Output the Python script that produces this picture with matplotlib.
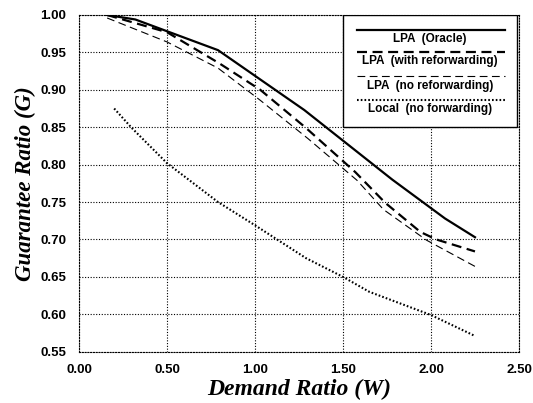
import matplotlib
matplotlib.use("Agg")
import matplotlib.pyplot as plt
from matplotlib.patches import Rectangle
from matplotlib.lines import Line2D

# ---- data ----
oracle_x = [0.16, 0.32, 0.79, 1.28, 1.78, 2.08, 2.25]
oracle_y = [1.000, 0.994, 0.953, 0.873, 0.780, 0.728, 0.703]

refwd_x = [0.16, 0.50, 0.80, 1.03, 1.29, 1.57, 1.74, 1.94, 2.03, 2.25]
refwd_y = [1.000, 0.977, 0.935, 0.900, 0.849, 0.790, 0.749, 0.710, 0.700, 0.684]

norefwd_x = [0.16, 0.50, 0.79, 1.03, 1.30, 1.58, 1.73, 1.975, 2.25]
norefwd_y = [0.996, 0.964, 0.929, 0.886, 0.835, 0.779, 0.740, 0.699, 0.664]

local_x = [0.20, 0.30, 0.50, 0.79, 1.00, 1.29, 1.50, 1.65, 2.00, 2.25]
local_y = [0.875, 0.849, 0.802, 0.750, 0.719, 0.675, 0.650, 0.630, 0.599, 0.571]

labels = ["LPA  (Oracle)", "LPA  (with reforwarding)",
          "LPA  (no reforwarding)", "Local  (no forwarding)"]
xticks = [0.0, 0.5, 1.0, 1.5, 2.0, 2.5]
yticks = [0.55, 0.60, 0.65, 0.70, 0.75, 0.80, 0.85, 0.90, 0.95, 1.00]

fig = plt.figure(figsize=(5.33, 4.03), dpi=100)
ax = fig.add_axes([0.1482, 0.1273, 0.8255, 0.8355])

styles = [
    dict(color="black", lw=1.6, ls="-"),
    dict(color="black", lw=1.6, ls=(0, (4.5, 2.5))),
    dict(color="black", lw=0.8, ls=(0, (7, 4))),
    dict(color="black", lw=1.5, ls=(0, (0.8, 1.0))),
]
series = [(oracle_x, oracle_y), (refwd_x, refwd_y),
          (norefwd_x, norefwd_y), (local_x, local_y)]
for (xs, ys), st in zip(series, styles):
    ax.plot(xs, ys, zorder=3, **st)

ax.set_xlim(0, 2.5)
ax.set_ylim(0.55, 1.0)
ax.set_xticks(xticks)
ax.set_yticks(yticks)
ax.set_xticklabels([f"{v:.2f}" for v in xticks])
ax.set_yticklabels([f"{v:.2f}" for v in yticks])
ax.tick_params(axis="y", length=0, pad=9)
ax.tick_params(axis="x", length=0, pad=9)
for lab in ax.get_xticklabels() + ax.get_yticklabels():
    lab.set_fontfamily("Liberation Sans")
    lab.set_fontweight("bold")
    lab.set_fontsize(9.5)
ax.grid(True, color="black", ls=(0, (1, 1.5)), lw=0.8)
for sp in ax.spines.values():
    sp.set_linestyle((0, (1, 1.5)))
    sp.set_linewidth(0.8)

ax.set_xlabel("Demand Ratio (W)", family="Liberation Serif", weight="bold",
              style="italic", fontsize=17, labelpad=2)
ax.set_ylabel("Guarantee Ratio (G)", family="Liberation Serif", weight="bold",
              style="italic", fontsize=16.5)
ax.yaxis.set_label_coords(-0.098, 0.5)

# legend box
tr = ax.transAxes
ax.add_patch(Rectangle((0.601, 0.668), 0.394, 0.332, transform=tr,
                       facecolor="white", edgecolor="black", lw=1.0, zorder=5))
line_y = [0.955, 0.889, 0.820, 0.748]
text_y = [0.930, 0.862, 0.790, 0.721]
for ly, tyy, lab, st in zip(line_y, text_y, labels, styles):
    ax.add_line(Line2D([0.631, 0.968], [ly, ly], transform=tr, zorder=6, **st))
    ax.text(0.798, tyy, lab, transform=tr, ha="center", va="center",
            family="Liberation Sans", weight="bold", fontsize=8.5, zorder=6)

fig.savefig("out.png", dpi=100)
